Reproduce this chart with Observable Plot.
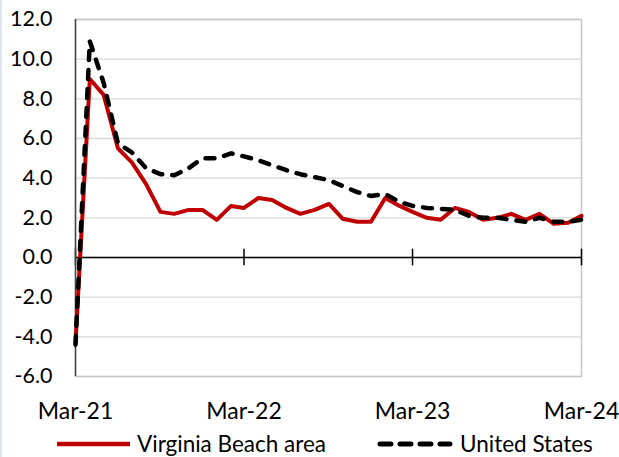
<!DOCTYPE html>
<html>
<head>
<meta charset="utf-8">
<script src="https://cdn.jsdelivr.net/npm/d3@7"></script>
<script src="https://cdn.jsdelivr.net/npm/@observablehq/plot@0.6"></script>
<style>
  html, body { margin: 0; padding: 0; background: #fff; }
  #wrap { position: relative; width: 619px; height: 457px; overflow: hidden; font-family: Lato, sans-serif; }
  #strip { position: absolute; left: 0; top: 0; width: 2px; height: 457px; background: #dde7f3; }
  #chart { position: absolute; left: 0; top: 0; }
  #legend { position: absolute; left: 0; top: 429px; width: 619px; height: 29px; }
  .lg-item { position: absolute; top: 0; height: 29px; display: flex; align-items: center; font-size: 22.5px; color: #000; white-space: nowrap; }
  .lg-item svg { display: block; margin-right: 7px; }
</style>
</head>
<body>
<div id="wrap">
  <div id="chart"></div>
  <div id="strip"></div>
  <div id="legend">
    <div class="lg-item" id="lg1" style="left:57px;"></div>
    <div class="lg-item" id="lg2" style="left:377px;"></div>
  </div>
</div>
<script>
// ---- data ----
const months = [
  "2021-03","2021-04","2021-05","2021-06","2021-07","2021-08","2021-09","2021-10","2021-11","2021-12",
  "2022-01","2022-02","2022-03","2022-04","2022-05","2022-06","2022-07","2022-08","2022-09","2022-10","2022-11","2022-12",
  "2023-01","2023-02","2023-03","2023-04","2023-05","2023-06","2023-07","2023-08","2023-09","2023-10","2023-11","2023-12",
  "2024-01","2024-02","2024-03"
];
const virginiaBeach = [
  -4.3, 9.0, 8.2, 5.5, 4.8, 3.7, 2.3, 2.2, 2.4, 2.4,
  1.9, 2.6, 2.5, 3.0, 2.9, 2.5, 2.2, 2.4, 2.7, 1.95, 1.8, 1.8,
  3.0, 2.6, 2.3, 2.0, 1.9, 2.5, 2.3, 1.9, 2.0, 2.2, 1.9, 2.2,
  1.7, 1.75, 2.1
];
const unitedStates = [
  -4.4, 10.9, 8.8, 5.75, 5.3, 4.5, 4.2, 4.15, 4.5, 5.0,
  5.0, 5.25, 5.1, 4.9, 4.65, 4.4, 4.2, 4.05, 3.9, 3.6, 3.3, 3.1,
  3.2, 2.8, 2.6, 2.5, 2.45, 2.4, 2.1, 2.0, 2.0, 1.9, 1.8, 2.0,
  1.8, 1.8, 1.9
];
const seriesNames = ["Virginia Beach area", "United States"];
const xTickMonths = ["2021-03", "2022-03", "2023-03", "2024-03"];
const xTickLabels = ["Mar-21", "Mar-22", "Mar-23", "Mar-24"];
const yTicks = [-6, -4, -2, 0, 2, 4, 6, 8, 10, 12];

// ---- build ----
const toDate = s => new Date(s + "-01T00:00:00Z");
const dates = months.map(toDate);
const tickDates = xTickMonths.map(toDate);
const vbData = dates.map((d, i) => ({date: d, value: virginiaBeach[i]}));
const usData = dates.map((d, i) => ({date: d, value: unitedStates[i]}));

const RED = "#c00000";
const DASH = "9,10";

const chart = Plot.plot({
  width: 619,
  height: 428,
  marginLeft: 75,
  marginRight: 38,
  marginTop: 19,
  marginBottom: 52,
  style: {fontFamily: "Lato, sans-serif", fontSize: "21px", color: "#000", background: "transparent", overflow: "visible"},
  x: {type: "utc", domain: [dates[0], dates[dates.length - 1]], label: null},
  y: {domain: [-6, 12], label: null},
  marks: [
    Plot.gridY(yTicks, {stroke: "#d9d9d9", strokeOpacity: 1, strokeWidth: 1.3}),
    Plot.frame({stroke: "#c6c6c6", strokeWidth: 1.5}),
    Plot.ruleY([0], {stroke: "#000", strokeWidth: 1.5}),
    Plot.ruleX(tickDates, {y1: -0.42, y2: 0.42, stroke: "#000", strokeWidth: 1.5}),
    Plot.ruleX([dates[0]], {stroke: "#444", strokeWidth: 1.5}),
    Plot.axisY(yTicks, {tickSize: 0, tickPadding: 23, tickFormat: v => v.toFixed(1), fontSize: 21.5, label: null}),
    Plot.axisX(tickDates, {tickSize: 0, tickPadding: 26, fontSize: 23, label: null,
      tickFormat: d => xTickLabels[tickDates.findIndex(t => +t === +d)]}),
    Plot.line(vbData, {x: "date", y: "value", stroke: RED, strokeWidth: 4, strokeLinejoin: "round"}),
    Plot.line(usData, {x: "date", y: "value", stroke: "#000", strokeWidth: 4.5, strokeDasharray: DASH, strokeLinecap: "round", strokeLinejoin: "round"})
  ]
});
document.getElementById("chart").appendChild(chart);

// ---- legend ----
document.getElementById("lg1").innerHTML =
  `<svg width="73" height="10"><line x1="0" y1="5" x2="73" y2="5" stroke="${RED}" stroke-width="4.5"/></svg><span>${seriesNames[0]}</span>`;
document.getElementById("lg2").innerHTML =
  `<svg width="76" height="10"><line x1="3" y1="5" x2="73" y2="5" stroke="#000" stroke-width="5" stroke-dasharray="11,9" stroke-linecap="round"/></svg><span>${seriesNames[1]}</span>`;
</script>
</body>
</html>
